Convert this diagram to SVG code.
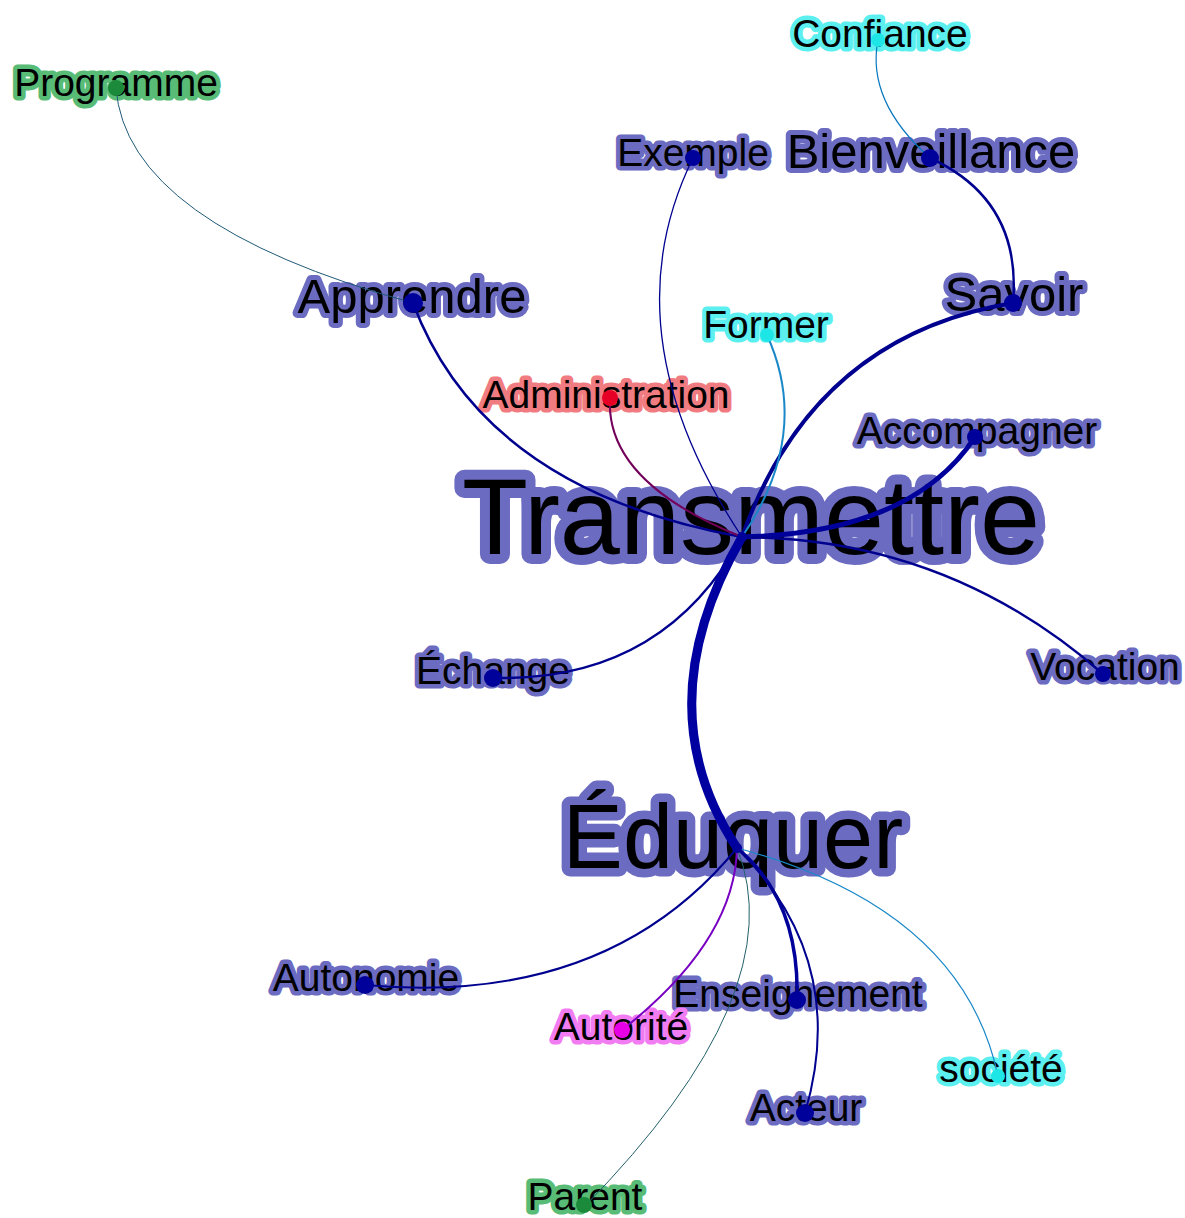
<svg xmlns="http://www.w3.org/2000/svg" width="1185" height="1218" viewBox="0 0 1185 1218">
<style>
text{font-family:"Liberation Sans",Arial,sans-serif;text-anchor:middle;fill:#000;paint-order:stroke;stroke-linejoin:round}
.nv{stroke:#6b6bc1}
.gr{stroke:#58bb76}
.cy{stroke:#5cefef}
.rd{stroke:#f07b80}
.mg{stroke:#f27cf2}
.s{font-size:39px;stroke-width:9px}
.m{font-size:49px;stroke-width:10px}
.e{fill:none;stroke-linecap:round}
.n{fill:#00009a}
</style>
<rect width="1185" height="1218" fill="#fff"/>
<g id="labels">
<g id="label-programme"><text class="s gr" x="116" y="96">Programme</text></g>
<g id="label-confiance"><text class="s cy" x="880" y="47">Confiance</text></g>
<g id="label-exemple"><text class="s nv" x="693" y="166">Exemple</text></g>
<g id="label-bienveillance"><text class="m nv" x="931" y="168">Bienveillance</text></g>
<g id="label-savoir"><text class="m nv" x="1014" y="311">Savoir</text></g>
<g id="label-apprendre"><text class="m nv" x="412" y="313">Apprendre</text></g>
<g id="label-former"><text class="s cy" x="766" y="338">Former</text></g>
<g id="label-administration"><text class="s rd" x="606" y="408">Administration</text></g>
<g id="label-accompagner"><text class="s nv" x="977" y="444">Accompagner</text></g>
<g id="label-transmettre"><text class="nv" x="751" y="554" style="font-size:108px;stroke-width:20px">Transmettre</text></g>
<g id="label-echange"><text class="s nv" x="493" y="684">Échange</text></g>
<g id="label-vocation"><text class="s nv" x="1105" y="680">Vocation</text></g>
<g id="label-eduquer"><text class="nv" x="733" y="868" style="font-size:90px;stroke-width:17px">Éduquer</text></g>
<g id="label-autonomie"><text class="s nv" x="366" y="991">Autonomie</text></g>
<g id="label-enseignement"><text class="s nv" x="798" y="1007">Enseignement</text></g>
<g id="label-autorite"><text class="s mg" x="621" y="1040">Autorité</text></g>
<g id="label-societe"><text class="s cy" x="1001" y="1082">société</text></g>
<g id="label-acteur"><text class="s nv" x="806" y="1121">Acteur</text></g>
<g id="label-parent"><text class="s gr" x="585" y="1210">Parent</text></g>
</g>
<g id="edges" class="e">
<path d="M116,88 Q126,224 413,303" stroke="#1f5a78" stroke-width="1"/>
<path d="M413,303 Q483,490 742,537" stroke="#00008f" stroke-width="2.5"/>
<path d="M693,158 Q607,333 742,537" stroke="#00008f" stroke-width="1.3"/>
<path d="M878,40 Q866,101 930,158" stroke="#0a78c0" stroke-width="1.2"/>
<path d="M930,158 Q1022,200 1013,303" stroke="#00008f" stroke-width="2.5"/>
<path d="M1013,303 Q813,336 742,537" stroke="#00008f" stroke-width="4"/>
<path d="M767,335 Q812,434 742,537" stroke="#1a88c8" stroke-width="2"/>
<path d="M610,398 Q605,482 742,537" stroke="#73005a" stroke-width="2"/>
<path d="M975,437 Q912,533 742,537" stroke="#00009a" stroke-width="5"/>
<path d="M742,537 Q948,538 1103,674" stroke="#00008f" stroke-width="2.5"/>
<path d="M493,678 Q663,682 742,537" stroke="#00008f" stroke-width="2.5"/>
<path d="M742,537 Q644,707 737,848" stroke="#0000a0" stroke-width="9"/>
<path d="M737,848 Q607,1007 365,985" stroke="#00008f" stroke-width="2"/>
<path d="M737,848 Q735,941 622,1030" stroke="#7700c2" stroke-width="2"/>
<path d="M737,848 Q795,992 584,1207" stroke="#22606a" stroke-width="1"/>
<path d="M737,848 Q800,900 797,1000" stroke="#00009a" stroke-width="3.5"/>
<path d="M737,848 Q850,960 805,1113" stroke="#00008f" stroke-width="2"/>
<path d="M737,848 Q962,908 998,1076" stroke="#1a88c8" stroke-width="1.2"/>
</g>
<g id="node-programme"><circle cx="116" cy="88" r="8" fill="#1b8b3b"/></g>
<g id="node-confiance"><circle cx="878" cy="40" r="7" fill="#1ee6e6"/></g>
<g id="node-exemple"><circle class="n" cx="693" cy="158" r="8"/></g>
<g id="node-bienveillance"><circle class="n" cx="930" cy="158" r="9"/></g>
<g id="node-savoir"><circle class="n" cx="1013" cy="303" r="9"/></g>
<g id="node-apprendre"><circle class="n" cx="413" cy="303" r="10"/></g>
<g id="node-former"><circle cx="767" cy="335" r="7" fill="#1ee6e6"/></g>
<g id="node-administration"><circle cx="610" cy="398" r="8" fill="#e60026"/></g>
<g id="node-accompagner"><circle class="n" cx="975" cy="437" r="8"/></g>
<g id="node-transmettre"><circle class="n" cx="742" cy="537" r="5"/></g>
<g id="node-echange"><circle class="n" cx="493" cy="678" r="9"/></g>
<g id="node-vocation"><circle class="n" cx="1103" cy="674" r="8"/></g>
<g id="node-eduquer"><circle class="n" cx="737" cy="848" r="5"/></g>
<g id="node-autonomie"><circle class="n" cx="365" cy="985" r="9"/></g>
<g id="node-enseignement"><circle class="n" cx="797" cy="1000" r="9"/></g>
<g id="node-autorite"><circle cx="622" cy="1030" r="8" fill="#e600e6"/></g>
<g id="node-societe"><circle cx="998" cy="1076" r="7" fill="#1ee6e6"/></g>
<g id="node-acteur"><circle class="n" cx="805" cy="1113" r="9"/></g>
<g id="node-parent"><circle cx="584" cy="1205" r="8" fill="#1b8b3b"/></g>
</svg>
